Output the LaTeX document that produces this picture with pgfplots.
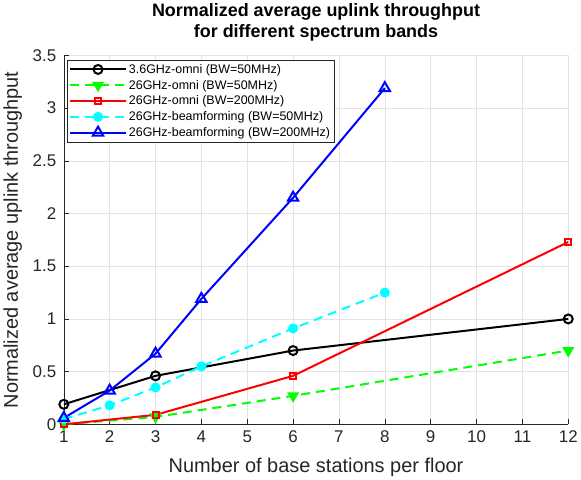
\documentclass[border=0pt]{standalone}
\usepackage{pgfplots}
\pgfplotsset{compat=1.18}
\usepackage{fontspec}
\setmainfont{Liberation Sans}
\definecolor{mgreen}{RGB}{0,255,0}
\definecolor{mcyan}{RGB}{0,255,255}
\definecolor{mred}{RGB}{255,0,0}
\definecolor{mblue}{RGB}{0,0,255}
\definecolor{axgray}{RGB}{38,38,38}

\begin{document}
\begin{tikzpicture}
  \begin{axis}[
    width=506pt, height=370pt, scale only axis,
    xmin=1, xmax=12, ymin=0, ymax=3.5,
    xtick={1,...,12},
    ytick={0,0.5,...,3.5},
    axis lines*=left,
    axis line style={axgray, line width=0.6pt},
    tick align=inside,
    tick style={axgray, line width=0.6pt},
    major tick length=5pt,
    grid=major,
    grid style={gray!22, line width=0.6pt},
    /pgf/number format/assume math mode=true,
    ticklabel style={font=\fontsize{17}{17}\selectfont, text=axgray},
    yticklabel style={xshift=-4pt},
    xticklabel style={yshift=-3pt},
    xlabel={Number of base stations per floor},
    ylabel={Normalized average uplink throughput},
    label style={font=\fontsize{20}{20}\selectfont, text=axgray},
    ylabel style={yshift=4pt},
    xlabel style={yshift=-8pt},
    title style={font=\fontsize{18}{21}\selectfont\bfseries, align=center, yshift=5pt},
    title={Normalized average uplink throughput\\for different spectrum bands},
    legend cell align=left,
    legend style={at={(0.006,0.988)}, anchor=north west,
      font=\fontsize{12.5}{15}\selectfont, draw=axgray, line width=0.6pt,
      row sep=1.3pt, inner sep=2pt},
    legend image code/.code={%
      \draw[mark repeat=2, mark phase=2, #1] plot coordinates {(0pt,0pt) (28pt,0pt) (56pt,0pt)};},
  ]
    \addplot[black, line width=2pt, mark=o, mark size=4.5pt, mark options={solid}] coordinates
      {(1,0.19) (3,0.46) (6,0.70) (12,1.00)};
    \addlegendentry{3.6GHz-omni (BW=50MHz)}
    \addplot[mgreen, line width=2pt, dash pattern=on 9pt off 6pt, mark=triangle*, mark size=5pt,
      mark options={solid, rotate=180}] coordinates
      {(1,0.0) (3,0.07) (6,0.27) (12,0.70)};
    \addlegendentry{26GHz-omni (BW=50MHz)}
    \addplot[mred, line width=2pt, mark=square, mark size=3pt, mark options={solid}] coordinates
      {(1,0.0) (3,0.09) (6,0.46) (12,1.73)};
    \addlegendentry{26GHz-omni (BW=200MHz)}
    \addplot[mcyan, line width=2pt, dash pattern=on 9pt off 6pt, mark=*, mark size=4pt,
      mark options={solid}] coordinates
      {(1,0.05) (2,0.18) (3,0.35) (4,0.55) (6,0.91) (8,1.25)};
    \addlegendentry{26GHz-beamforming (BW=50MHz)}
    \addplot[mblue, line width=2pt, mark=triangle, mark size=6pt, mark options={solid}] coordinates
      {(1,0.06) (2,0.32) (3,0.67) (4,1.19) (6,2.15) (8,3.19)};
    \addlegendentry{26GHz-beamforming (BW=200MHz)}
  \end{axis}
\end{tikzpicture}
\end{document}
